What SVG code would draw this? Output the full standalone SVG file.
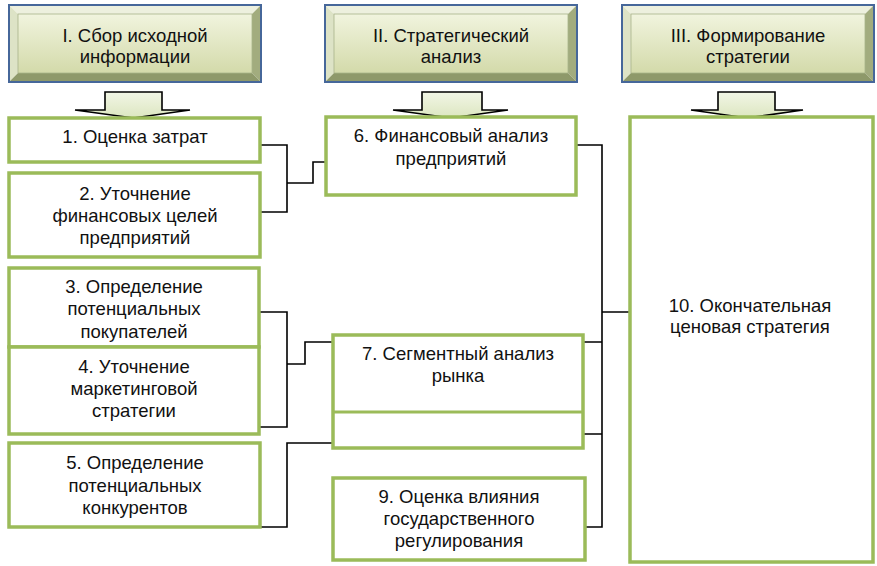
<svg xmlns="http://www.w3.org/2000/svg" xmlns:xlink="http://www.w3.org/1999/xlink" width="877" height="566" viewBox="0 0 877 566">
<style>
text{font-family:"Liberation Sans",Arial,sans-serif;font-size:18.5px;fill:#111;text-anchor:middle}
.box{fill:#fff;stroke:#9BBB59;stroke-width:3.5}
.con{fill:none;stroke:#000;stroke-width:1.6}
.arr{fill:url(#ag);stroke:#000;stroke-width:1.6;stroke-linejoin:miter}
</style>
<defs>
<linearGradient id="hg" x1="0" y1="0" x2="0" y2="1">
<stop offset="0" stop-color="#F1F4DE"/>
<stop offset="1" stop-color="#D3DAAA"/>
</linearGradient>
<linearGradient id="ag" x1="0" y1="0" x2="0" y2="1">
<stop offset="0" stop-color="#F2F6E6"/>
<stop offset="1" stop-color="#DCE6C0"/>
</linearGradient>
<g id="hdr">
<polygon points="0,0 252,0 243,9 9,9" fill="#EDF0DE"/>
<polygon points="0,0 9,9 9,68 0,77" fill="#DDE3C6"/>
<polygon points="252,0 252,77 243,68 243,9" fill="#A2AC7E"/>
<polygon points="0,77 252,77 243,68 9,68" fill="#8E996A"/>
<rect x="9" y="9" width="234" height="59" fill="url(#hg)" stroke="#A9B38A" stroke-width="0.8"/>
<rect x="0" y="0" width="252" height="77" fill="none" stroke="#46679A" stroke-width="2"/>
</g>
</defs>
<rect width="877" height="566" fill="#fff"/>

<g id="arrows">
<polygon class="arr" points="105,92 162,92 162,110 190,110 133.5,118 75,110 105,110"/>
<polygon class="arr" points="422,92 482,92 482,110 508,110 451,118 393,110 422,110"/>
<polygon class="arr" points="718,92 775,92 775,110 803,110 747,118 691,110 718,110"/>
</g>

<g id="h1"><use xlink:href="#hdr" x="9" y="5"/><text x="135" y="42">I. Сбор исходной</text><text x="135" y="63">информации</text></g>
<g id="h2"><use xlink:href="#hdr" x="325" y="5"/><text x="451" y="42">II. Стратегический</text><text x="451" y="63">анализ</text></g>
<g id="h3"><use xlink:href="#hdr" x="622" y="5"/><text x="748" y="42">III. Формирование</text><text x="748" y="63">стратегии</text></g>

<g id="connectors">
<path class="con" d="M260,145 H287 V212 H260 M287,183 H313 V162 H326"/>
<path class="con" d="M259,312 H287 V427 H259 M287,364 H305 V342 H333"/>
<path class="con" d="M260,527 H287 V443 H333"/>
<path class="con" d="M576,145 H602 V527 H585 M583,342 H602 M583,434 H602 M602,312 H630"/>
</g>

<g id="n1"><rect class="box" x="9" y="118" width="251" height="44"/><text x="135" y="143">1. Оценка затрат</text></g>
<g id="n2"><rect class="box" x="9" y="173" width="251" height="84"/><text x="135" y="200">2. Уточнение</text><text x="135" y="222">финансовых целей</text><text x="135" y="244">предприятий</text></g>
<g id="n3"><rect class="box" x="9" y="268" width="250" height="79"/><text x="134" y="293">3. Определение</text><text x="134" y="315">потенциальных</text><text x="134" y="338">покупателей</text></g>
<g id="n4"><rect class="box" x="9" y="347" width="250" height="87"/><text x="134" y="373">4. Уточнение</text><text x="134" y="395">маркетинговой</text><text x="134" y="417">стратегии</text></g>
<g id="n5"><rect class="box" x="9" y="443" width="251" height="84"/><text x="135" y="469">5. Определение</text><text x="135" y="492">потенциальных</text><text x="135" y="514">конкурентов</text></g>
<g id="n6"><rect class="box" x="326" y="117" width="250" height="78"/><text x="451" y="142">6. Финансовый анализ</text><text x="451" y="165">предприятий</text></g>
<g id="n7"><rect class="box" x="333" y="335" width="250" height="113"/><line x1="333" y1="412" x2="583" y2="412" stroke="#9BBB59" stroke-width="3"/><text x="458" y="360">7. Сегментный анализ</text><text x="458" y="382">рынка</text></g>
<g id="n9"><rect class="box" x="333" y="478" width="252" height="82"/><text x="459" y="503">9. Оценка влияния</text><text x="459" y="525">государственного</text><text x="459" y="547">регулирования</text></g>
<g id="n10"><rect class="box" x="630" y="117" width="243" height="445"/><text x="750" y="312">10. Окончательная</text><text x="750" y="333">ценовая стратегия</text></g>
</svg>
